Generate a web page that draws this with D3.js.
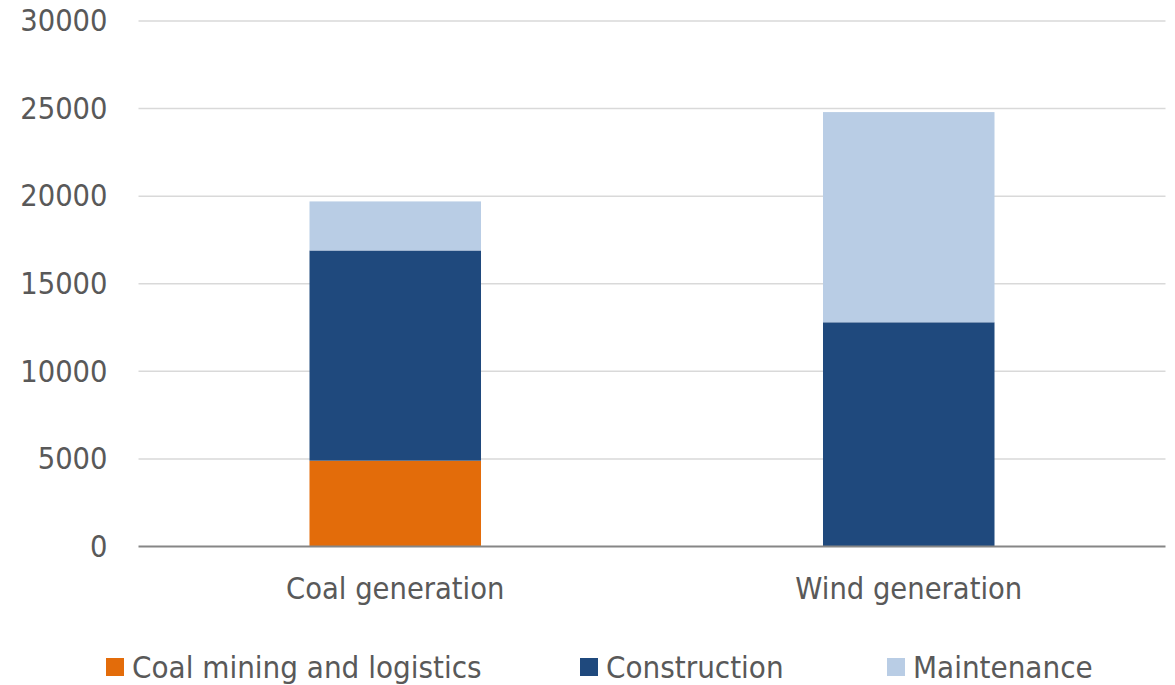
<!DOCTYPE html>
<html><head><meta charset="utf-8">
<script src="https://cdn.jsdelivr.net/npm/d3@7"></script>
<style>
body{margin:0;background:#fff;}
svg text{font-family:"DejaVu Sans Condensed","DejaVu Sans",sans-serif;font-stretch:condensed;fill:#595959;}
</style></head>
<body><svg id="c" width="1175" height="685"></svg>
<script>
const categories = ["Coal generation", "Wind generation"];
const seriesNames = ["Coal mining and logistics", "Construction", "Maintenance"];
const coalMining = [4900, 0];
const construction = [12000, 12800];
const maintenance = [2800, 12000];
const yTicks = [0, 5000, 10000, 15000, 20000, 25000, 30000];
const colors = ["#E36C0A", "#1F497D", "#B9CDE5"];

const svg = d3.select("#c");
const m = {left: 138.5, right: 1165.5, top: 21, bottom: 546.5};
const x = d3.scaleBand().domain(categories).range([m.left, m.right]).paddingInner(0.666).paddingOuter(0.333);
const y = d3.scaleLinear().domain([0, 30000]).range([m.bottom, m.top]);

const rows = categories.map((c, i) => ({cat: c, "Coal mining and logistics": coalMining[i], "Construction": construction[i], "Maintenance": maintenance[i]}));
const stacked = d3.stack().keys(seriesNames)(rows);

// gridlines
svg.append("g").selectAll("line").data(yTicks.filter(d => d > 0)).join("line")
  .attr("x1", m.left).attr("x2", m.right)
  .attr("y1", d => y(d)).attr("y2", d => y(d))
  .attr("stroke", "#d9d9d9").attr("stroke-width", 1.5);

// bars
svg.append("g").selectAll("g").data(stacked).join("g")
  .attr("fill", (d, i) => colors[i])
  .selectAll("rect").data(d => d.filter(p => p[1] - p[0] > 0)).join("rect")
  .attr("x", d => x(d.data.cat))
  .attr("width", x.bandwidth())
  .attr("y", d => y(d[1]))
  .attr("height", d => y(d[0]) - y(d[1]));

// y axis labels
const yAxis = d3.axisLeft(y).tickValues(yTicks).tickSize(0).tickPadding(31).tickFormat(d3.format("d"));
const ga = svg.append("g").attr("transform", `translate(${m.left},0)`).call(yAxis);
ga.select(".domain").remove();
ga.selectAll("text").attr("font-size", 30.5).style("fill", "#595959").attr("font-family", null);

// baseline
svg.append("line").attr("x1", m.left).attr("x2", m.right).attr("y1", y(0)).attr("y2", y(0))
  .attr("stroke", "#868686").attr("stroke-width", 2);

// x axis labels
const xAxis = d3.axisBottom(x).tickSize(0).tickPadding(31);
const gx = svg.append("g").attr("transform", `translate(0,${y(0)})`).call(xAxis);
gx.select(".domain").remove();
gx.selectAll("text").attr("font-size", 30.5).style("fill", "#595959").attr("font-family", null);

// legend
const legendX = [106, 580, 887];
const lg = svg.append("g").selectAll("g").data(seriesNames).join("g")
  .attr("transform", (d, i) => `translate(${legendX[i]},658)`);
lg.append("rect").attr("width", 18).attr("height", 18).attr("fill", (d, i) => colors[i]);
lg.append("text").attr("x", 26).attr("y", 9).attr("dy", "0.36em").attr("font-size", 31).text(d => d);
</script></body></html>
